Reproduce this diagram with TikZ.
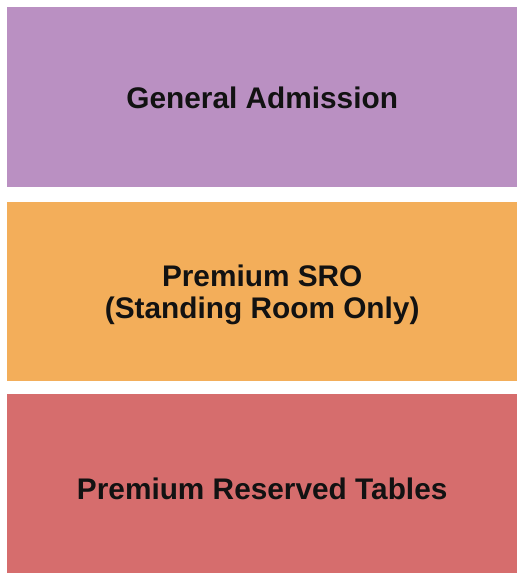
\documentclass[tikz,border=0pt]{standalone}
\usepackage{fontspec}
\setmainfont{Liberation Sans}
\usetikzlibrary{positioning}

\definecolor{gaPurple}{HTML}{BA90C2}
\definecolor{sroOrange}{HTML}{F3AE5A}
\definecolor{tableRed}{HTML}{D66D6D}

\newcommand{\lowered}[2]{\raisebox{-#1}[\height][\depth]{#2}}

\begin{document}
\begin{tikzpicture}[
  x=1pt, y=-1pt,
  section/.style = {minimum width=510pt, minimum height=179.5pt, inner sep=0pt,
    align=center, font=\fontsize{29.8}{32}\selectfont\bfseries, text=black!93},
  node distance=13pt
]
  \useasboundingbox (0,0) rectangle (525,580);

  % General admission floor
  \node[section, fill=gaPurple, anchor=north west] (ga) at (7,7) {\lowered{1pt}{General Admission}};

  % Standing room
  \node[section, fill=sroOrange, below=14.5pt of ga] (sro) {\lowered{3.5pt}{Premium SRO}\\\lowered{3.5pt}{(Standing Room Only)}};

  % Tables
  \node[section, fill=tableRed, below=12pt of sro] (tables) {\lowered{6pt}{Premium Reserved Tables}};

\end{tikzpicture}
\end{document}
